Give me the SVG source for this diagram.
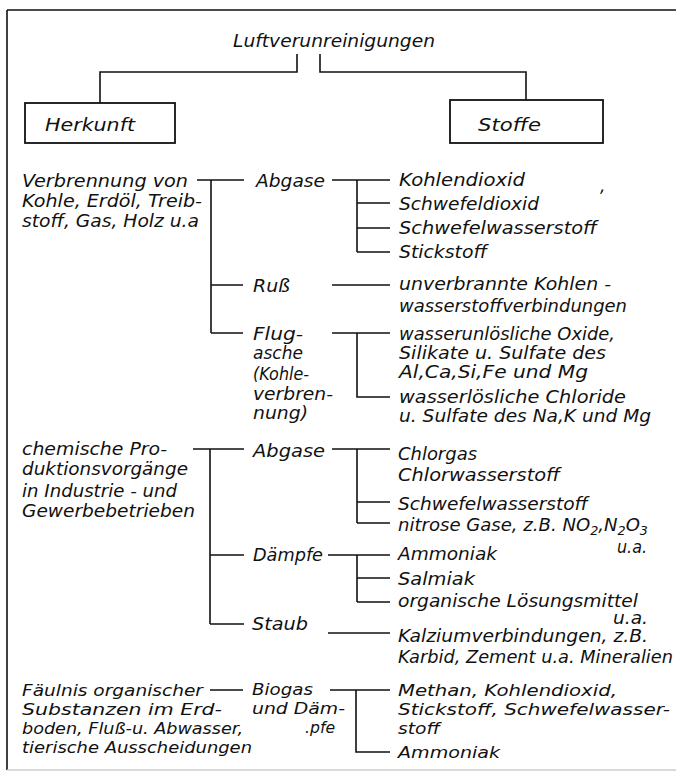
<svg xmlns="http://www.w3.org/2000/svg" width="676" height="773" viewBox="0 0 676 773">
<style>
text{font-family:"DejaVu Sans","Liberation Sans",sans-serif;font-style:italic;font-size:17px;fill:#111}
.s{font-size:16px}
.ln{fill:none;stroke:#111;stroke-width:1.6}
.box{fill:#fff;stroke:#111;stroke-width:1.8}
.sub{font-size:12px}
</style>
<rect width="676" height="773" fill="#fff"/>
<g id="frame">
<path class="ln" d="M7,10 H676 M7,10 V770" stroke-width="2"/>
<path d="M7,770 H676" stroke="#ccc" stroke-width="1.5" fill="none"/>
</g>
<g id="connectors">
<path class="ln" d="M297,54 V72 H100 V103 M320,54 V72 H526 V100"/>
<path class="ln" d="M197,180 H244 M211,180 V333 M211,285 H243 M211,333 H243"/>
<path class="ln" d="M332,180 H390 M357,180 V252 M357,203 H390 M357,228 H390 M357,252 H390"/>
<path class="ln" d="M332,285 H390"/>
<path class="ln" d="M332,333 H390 M357,333 V397 H390"/>
<path class="ln" d="M193,449 H244 M210,449 V624 M210,555 H244 M210,624 H244"/>
<path class="ln" d="M332,449 H390 M357,449 V523 M357,502 H390 M357,523 H390"/>
<path class="ln" d="M328,555 H390 M357,555 V602 M357,578 H390 M357,602 H390"/>
<path class="ln" d="M328,633 H390"/>
<path class="ln" d="M210,690 H243 M330,690 H390 M356,690 V752 H390"/>
</g>
<g id="title"><text x="233" y="47" textLength="202" lengthAdjust="spacingAndGlyphs">Luftverunreinigungen</text></g>
<g id="herkunft"><rect class="box" x="25" y="103" width="150" height="40"/><text x="45" y="131" textLength="90" lengthAdjust="spacingAndGlyphs">Herkunft</text></g>
<g id="stoffe"><rect class="box" x="450" y="100" width="153" height="43"/><text x="478" y="131" textLength="63" lengthAdjust="spacingAndGlyphs">Stoffe</text></g>
<g id="verbrennung">
<text x="22" y="187" textLength="166" lengthAdjust="spacingAndGlyphs">Verbrennung von</text>
<text x="22" y="207" textLength="180" lengthAdjust="spacingAndGlyphs">Kohle, Erdöl, Treib-</text>
<text x="22" y="227" textLength="177" lengthAdjust="spacingAndGlyphs">stoff, Gas, Holz u.a</text>
</g>
<g id="abgase1"><text x="256" y="187" textLength="69" lengthAdjust="spacingAndGlyphs">Abgase</text></g>
<g id="stoffe-abgase1">
<text x="399" y="186" textLength="126" lengthAdjust="spacingAndGlyphs">Kohlendioxid</text>
<text x="600" y="192" font-size="12">,</text>
<text x="399" y="210" textLength="140" lengthAdjust="spacingAndGlyphs">Schwefeldioxid</text>
<text x="399" y="234" textLength="198" lengthAdjust="spacingAndGlyphs">Schwefelwasserstoff</text>
<text x="399" y="258" textLength="88" lengthAdjust="spacingAndGlyphs">Stickstoff</text>
</g>
<g id="russ"><text x="253" y="292" textLength="37" lengthAdjust="spacingAndGlyphs">Ruß</text></g>
<g id="stoffe-russ">
<text x="399" y="290" textLength="212" lengthAdjust="spacingAndGlyphs">unverbrannte Kohlen -</text>
<text x="399" y="312" textLength="228" lengthAdjust="spacingAndGlyphs">wasserstoffverbindungen</text>
</g>
<g id="flugasche">
<text x="253" y="340" textLength="50" lengthAdjust="spacingAndGlyphs">Flug-</text>
<text x="253" y="359" textLength="50" lengthAdjust="spacingAndGlyphs">asche</text>
<text x="253" y="380" textLength="56" lengthAdjust="spacingAndGlyphs">(Kohle-</text>
<text x="253" y="400" textLength="80" lengthAdjust="spacingAndGlyphs">verbren-</text>
<text x="253" y="419" textLength="55" lengthAdjust="spacingAndGlyphs">nung)</text>
</g>
<g id="stoffe-flugasche">
<text x="399" y="340" textLength="216" lengthAdjust="spacingAndGlyphs">wasserunlösliche Oxide,</text>
<text x="399" y="359" textLength="207" lengthAdjust="spacingAndGlyphs">Silikate u. Sulfate des</text>
<text x="399" y="378" textLength="189" lengthAdjust="spacingAndGlyphs">Al,Ca,Si,Fe und Mg</text>
<text x="399" y="403" textLength="227" lengthAdjust="spacingAndGlyphs">wasserlösliche Chloride</text>
<text x="399" y="422" textLength="252" lengthAdjust="spacingAndGlyphs">u. Sulfate des Na,K und Mg</text>
</g>
<g id="chemische">
<text x="22" y="455" textLength="145" lengthAdjust="spacingAndGlyphs">chemische Pro-</text>
<text x="22" y="475" textLength="166" lengthAdjust="spacingAndGlyphs">duktionsvorgänge</text>
<text x="22" y="497" textLength="155" lengthAdjust="spacingAndGlyphs">in Industrie - und</text>
<text x="22" y="517" textLength="173" lengthAdjust="spacingAndGlyphs">Gewerbebetrieben</text>
</g>
<g id="abgase2"><text x="253" y="457" textLength="72" lengthAdjust="spacingAndGlyphs">Abgase</text></g>
<g id="stoffe-abgase2">
<text x="398" y="460" textLength="79" lengthAdjust="spacingAndGlyphs">Chlorgas</text>
<text x="398" y="481" textLength="162" lengthAdjust="spacingAndGlyphs">Chlorwasserstoff</text>
<text x="398" y="510" textLength="190" lengthAdjust="spacingAndGlyphs">Schwefelwasserstoff</text>
<text x="398" y="531" textLength="250" lengthAdjust="spacingAndGlyphs">nitrose Gase, z.B. NO<tspan class="sub" dy="4">2</tspan><tspan dy="-4">,N</tspan><tspan class="sub" dy="4">2</tspan><tspan dy="-4">O</tspan><tspan class="sub" dy="4">3</tspan></text>
<text x="617" y="553" textLength="30" lengthAdjust="spacingAndGlyphs">u.a.</text>
</g>
<g id="daempfe"><text x="253" y="561" textLength="70" lengthAdjust="spacingAndGlyphs">Dämpfe</text></g>
<g id="stoffe-daempfe">
<text x="398" y="560" textLength="99" lengthAdjust="spacingAndGlyphs">Ammoniak</text>
<text x="398" y="585" textLength="77" lengthAdjust="spacingAndGlyphs">Salmiak</text>
<text x="398" y="607" textLength="240" lengthAdjust="spacingAndGlyphs">organische Lösungsmittel</text>
<text x="613" y="624" textLength="35" lengthAdjust="spacingAndGlyphs">u.a.</text>
</g>
<g id="staub"><text x="252" y="630" textLength="56" lengthAdjust="spacingAndGlyphs">Staub</text></g>
<g id="stoffe-staub">
<text x="398" y="642" textLength="250" lengthAdjust="spacingAndGlyphs">Kalziumverbindungen, z.B.</text>
<text x="398" y="663" textLength="275" lengthAdjust="spacingAndGlyphs">Karbid, Zement u.a. Mineralien</text>
</g>
<g id="faeulnis">
<text class="s" x="22" y="696" textLength="181" lengthAdjust="spacingAndGlyphs">Fäulnis organischer</text>
<text class="s" x="22" y="715" textLength="200" lengthAdjust="spacingAndGlyphs">Substanzen im Erd-</text>
<text class="s" x="22" y="734" textLength="221" lengthAdjust="spacingAndGlyphs">boden, Fluß-u. Abwasser,</text>
<text class="s" x="22" y="753" textLength="230" lengthAdjust="spacingAndGlyphs">tierische Ausscheidungen</text>
</g>
<g id="biogas">
<text class="s" x="252" y="695" textLength="61" lengthAdjust="spacingAndGlyphs">Biogas</text>
<text class="s" x="252" y="714" textLength="93" lengthAdjust="spacingAndGlyphs">und Däm-</text>
<text class="s" x="305" y="733" textLength="30" lengthAdjust="spacingAndGlyphs">.pfe</text>
</g>
<g id="stoffe-biogas">
<text class="s" x="398" y="696" textLength="219" lengthAdjust="spacingAndGlyphs">Methan, Kohlendioxid,</text>
<text class="s" x="398" y="715" textLength="272" lengthAdjust="spacingAndGlyphs">Stickstoff, Schwefelwasser-</text>
<text class="s" x="398" y="734" textLength="42" lengthAdjust="spacingAndGlyphs">stoff</text>
<text class="s" x="398" y="758" textLength="102" lengthAdjust="spacingAndGlyphs">Ammoniak</text>
</g>
</svg>
